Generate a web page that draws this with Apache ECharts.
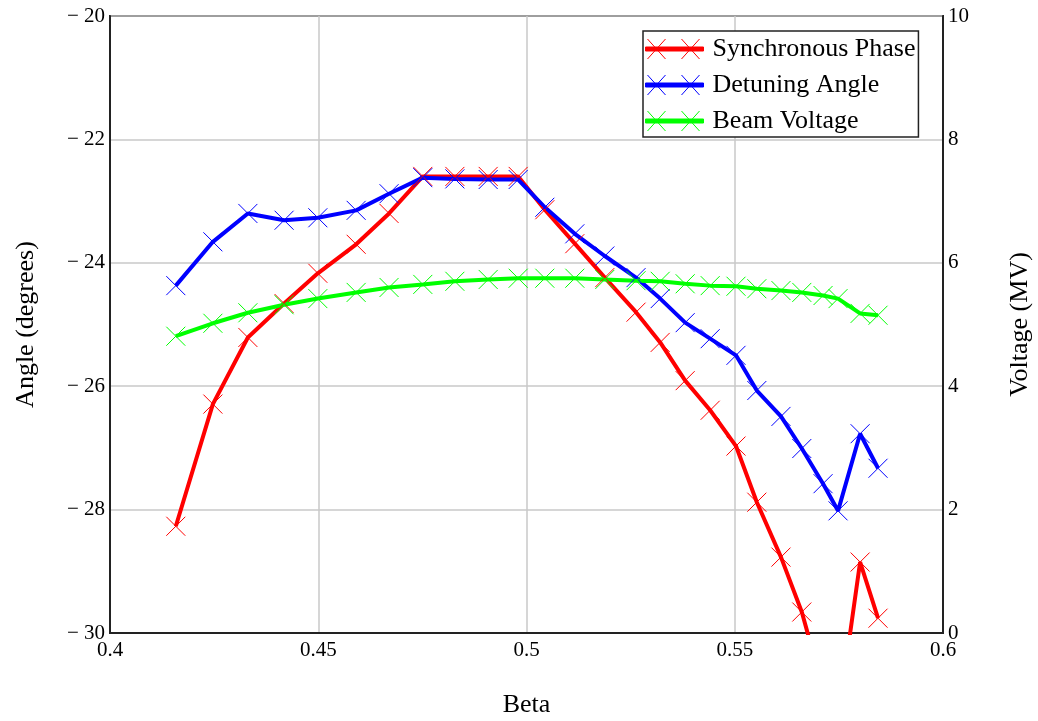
<!DOCTYPE html>
<html>
<head>
<meta charset="utf-8">
<script src="https://cdn.jsdelivr.net/npm/echarts@6/dist/echarts.min.js"></script>
<style>
html,body{margin:0;padding:0;background:#fff;}
#chart{width:1038px;height:721px;}
</style>
</head>
<body>
<div id="chart"></div>
<script>
// Beta values (x)
const beta = [0.4158, 0.4247, 0.4331, 0.4418, 0.4499, 0.4591, 0.4670, 0.4751, 0.4828, 0.4908,
              0.4980, 0.5044, 0.5116, 0.5188, 0.5263, 0.5321, 0.5381, 0.5441, 0.5503, 0.5553,
              0.5611, 0.5661, 0.5712, 0.5748, 0.5801, 0.5844];
// Synchronous Phase (degrees)
const syncPhase = [-28.27, -26.29, -25.21, -24.66, -24.17, -23.70, -23.20, -22.60, -22.60, -22.60,
                   -22.60, -23.14, -23.69, -24.24, -24.80, -25.29, -25.91, -26.39, -26.97, -27.88,
                   -28.77, -29.66, -30.90, -31.40, -28.85, -29.76];
// Detuning Angle (degrees)
const detuning = [-24.37, -23.66, -23.20, -23.31, -23.27, -23.15, -22.88, -22.62, -22.64, -22.65,
                  -22.65, -23.10, -23.53, -23.89, -24.24, -24.58, -24.97, -25.23, -25.50, -26.07,
                  -26.49, -27.01, -27.58, -28.02, -26.77, -27.33];
// Beam Voltage (MV)
const beamVoltage = [4.81, 5.02, 5.19, 5.32, 5.42, 5.52, 5.60, 5.65, 5.70, 5.73,
                     5.75, 5.75, 5.75, 5.73, 5.71, 5.70, 5.66, 5.63, 5.62, 5.58,
                     5.55, 5.52, 5.47, 5.42, 5.18, 5.15];
const seriesNames = ['Synchronous Phase', 'Detuning Angle', 'Beam Voltage'];
const seriesColors = ['#ff0000', '#0000ff', '#00ff00'];

const FONT = 'Liberation Serif';
const xMark = 'path://M0,0 L20,20 M20,0 L0,20';
const legendIcon = 'path://M0,8 L58,8 L58,12 L0,12 Z M2,0 L20,20 M20,0 L2,20 M36,0 L54,20 M54,0 L36,20';

function pairs(ys) { return beta.map((b, i) => [b, ys[i]]); }

const chart = echarts.init(document.getElementById('chart'), null, {renderer: 'canvas'});

function mkSeries(name, ys, color, yIdx) {
  return {
    name: name,
    type: 'line',
    yAxisIndex: yIdx,
    data: pairs(ys),
    symbol: xMark,
    symbolSize: 19,
    showSymbol: true,
    showAllSymbol: true,
    clip: true,
    color: color,
    lineStyle: {color: color, width: 4},
    itemStyle: {color: color, borderColor: color, borderWidth: 1},
    emphasis: {disabled: true}
  };
}

chart.setOption({
  animation: false,
  backgroundColor: '#fff',
  grid: {left: 110, right: 95, top: 16, bottom: 88, containLabel: false, outerBoundsMode: 'none',
         show: true, borderColor: '#222', borderWidth: 2, backgroundColor: 'transparent'},
  legend: {
    orient: 'vertical',
    left: 643, top: 31,
    padding: [5, 3, 3, 2],
    itemGap: 10,
    itemWidth: 58, itemHeight: 20,
    borderColor: '#222', borderWidth: 1.5,
    backgroundColor: '#fff',
    textStyle: {fontFamily: FONT, fontSize: 26, color: '#000', lineHeight: 25, padding: [0, 0, 0, 4]},
    data: seriesNames.map((n, i) => ({name: n, icon: legendIcon,
      itemStyle: {color: seriesColors[i], borderColor: seriesColors[i], borderWidth: 1}}))
  },
  xAxis: {
    type: 'value', min: 0.4, max: 0.6, interval: 0.05,
    name: 'Beta', nameLocation: 'middle', nameGap: 59,
    nameTextStyle: {fontFamily: FONT, fontSize: 26, color: '#000'},
    axisLine: {show: true, lineStyle: {color: '#222', width: 2}},
    axisTick: {show: false},
    axisLabel: {fontFamily: FONT, fontSize: 21, color: '#000', margin: 7},
    splitLine: {show: true, lineStyle: {color: '#c8c8c8', width: 1.5}}
  },
  yAxis: [{
    type: 'value', min: -30, max: -20, interval: 2,
    name: 'Angle (degrees)', nameLocation: 'middle', nameGap: 71,
    nameTextStyle: {fontFamily: FONT, fontSize: 26, color: '#000'},
    axisLine: {show: true, lineStyle: {color: '#222', width: 2}},
    axisTick: {show: false},
    axisLabel: {fontFamily: FONT, fontSize: 21, color: '#000', margin: 5,
      formatter: v => v < 0 ? '\u2212 ' + Math.abs(v) : String(v)},
    splitLine: {show: true, lineStyle: {color: '#c8c8c8', width: 1.5}}
  }, {
    type: 'value', min: 0, max: 10, interval: 2, position: 'right',
    name: 'Voltage (MV)', nameLocation: 'middle', nameGap: 64, nameRotate: 90,
    nameTextStyle: {fontFamily: FONT, fontSize: 26, color: '#000'},
    axisLine: {show: true, lineStyle: {color: '#222', width: 2}},
    axisTick: {show: false},
    axisLabel: {fontFamily: FONT, fontSize: 21, color: '#000', margin: 5},
    splitLine: {show: false}
  }],
  series: [
    mkSeries(seriesNames[0], syncPhase, seriesColors[0], 0),
    mkSeries(seriesNames[1], detuning, seriesColors[1], 0),
    mkSeries(seriesNames[2], beamVoltage, seriesColors[2], 1)
  ]
});
</script>
</body>
</html>
